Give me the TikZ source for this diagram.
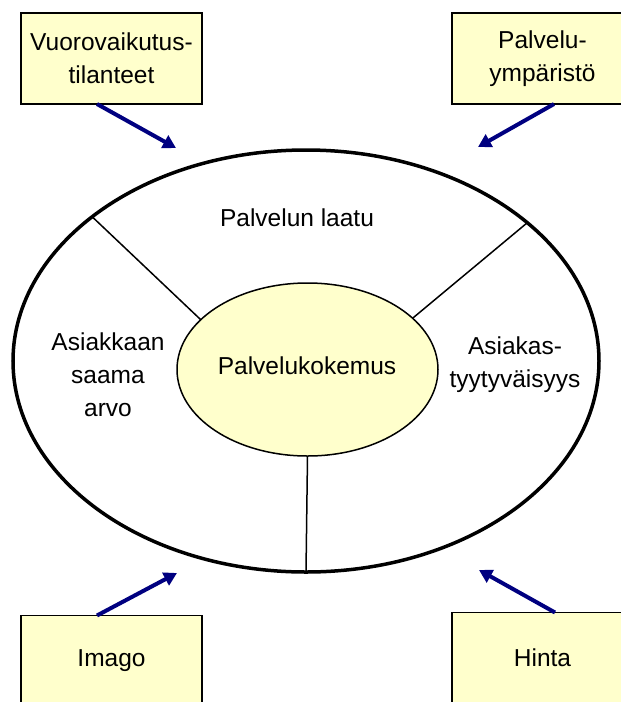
\documentclass[tikz,border=0pt]{standalone}
\usepackage{fontspec}
\setmainfont{Liberation Sans}
\usetikzlibrary{shapes.geometric,arrows.meta}
\definecolor{boxfill}{HTML}{FFFFCC}
\definecolor{arrowblue}{HTML}{000080}
\begin{document}
\begin{tikzpicture}[x=1pt,y=-1pt,
  lbl/.style={font=\fontsize{24.5}{33}\selectfont, align=center, text=black},
  factor/.style={lbl, draw=black, line width=1.5pt, fill=boxfill, minimum width=181pt, minimum height=91pt, inner sep=0pt, outer sep=0pt},
  inflow/.style={draw=arrowblue, fill=arrowblue, line width=4pt, -{Triangle[length=13pt,width=14pt]}},
  divider/.style={draw=black, line width=1.5pt}]
\useasboundingbox (0,0) rectangle (621,702);
\clip (0,0) rectangle (621,702);
% outer ring
\node[ellipse, draw=black, line width=3.5pt, minimum width=586pt, minimum height=422pt, inner sep=0pt, outer sep=0pt] (outer) at (306,361) {};
% inner core
\node[ellipse, draw=black, line width=1.5pt, fill=boxfill, minimum width=261pt, minimum height=173pt, inner sep=0pt, outer sep=0pt] (inner) at (307.5,369.5) {};
\node[lbl] (core) at (307,366) {Palvelukokemus};
% dividers
\draw[divider] (inner.155.2) -- (outer.146.4);
\draw[divider] (inner.26.9) -- (outer.32.6);
\draw[divider] (inner.270) -- (outer.270);
% sector labels
\node[lbl] (quality) at (297,218) {Palvelun laatu};
\node[lbl] (value) at (108,375) {Asiakkaan\\saama\\arvo};
\node[lbl] (satisf) at (515,365) {Asiakas-\\tyytyväisyys};
% factor boxes
\node[factor] (interact) at (111.5,58.5) {Vuorovaikutus-\\tilanteet};
\node[factor] (environ) at (542.5,58.5) {Palvelu-\\ympäristö};
\node[factor] (image) at (111.5,661) {Imago};
\node[factor] (price) at (542.5,658) {Hinta};
% arrow targets
\coordinate (interactTip) at (176,148);
\coordinate (environTip) at (478,147);
\coordinate (imageTip) at (177,573);
\coordinate (priceTip) at (479,570);
% arrows
\draw[inflow] ([xshift=-14.5pt]interact.south) -- (interactTip);
\draw[inflow] ([xshift=11.5pt]environ.south) -- (environTip);
\draw[inflow] ([xshift=-14.5pt]image.north) -- (imageTip);
\draw[inflow] ([xshift=12.5pt]price.north) -- (priceTip);
\end{tikzpicture}
\end{document}
